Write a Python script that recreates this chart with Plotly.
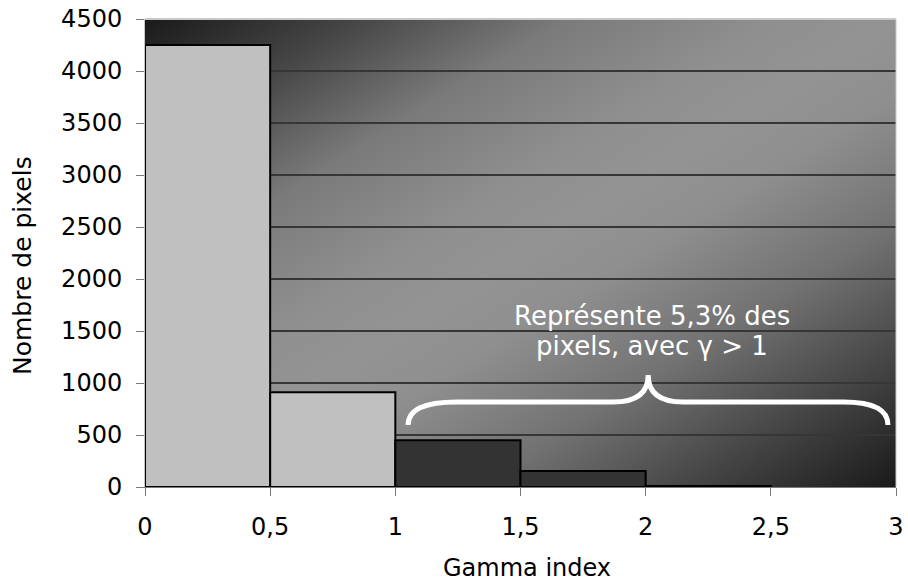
import base64
import plotly.graph_objects as go

# ---- data ----
bin_edges = [0, 0.5, 1, 1.5, 2, 2.5]
pixel_counts = [4250, 910, 450, 155, 10]
x_tick_values = [0, 0.5, 1, 1.5, 2, 2.5, 3]
x_tick_labels = ["0", "0,5", "1", "1,5", "2", "2,5", "3"]
y_tick_values = [0, 500, 1000, 1500, 2000, 2500, 3000, 3500, 4000, 4500]
y_tick_labels = ["0", "500", "1000", "1500", "2000", "2500", "3000", "3500", "4000", "4500"]
annotation_lines = ["Représente 5,3% des", "pixels, avec γ > 1"]
gamma_threshold = 1

# ---- styles ----
LIGHT = "#c0c0c0"
DARK = "#333333"
FONT = "DejaVu Sans"

centers = [(a + b) / 2 for a, b in zip(bin_edges[:-1], bin_edges[1:])]
widths = [b - a for a, b in zip(bin_edges[:-1], bin_edges[1:])]
colors = [LIGHT if b <= gamma_threshold else DARK for b in bin_edges[1:]]

# background gradient (diagonal, dark corners, light band)
stops = [(0, "#1a1a1a"), (0.14, "#454545"), (0.28, "#7a7a7a"), (0.42, "#8f8f8f"),
         (0.5, "#939393"), (0.58, "#8f8f8f"), (0.72, "#727272"), (0.86, "#454545"),
         (1, "#1a1a1a")]
stop_svg = "".join(f'<stop offset="{o}" stop-color="{c}"/>' for o, c in stops)
svg = ('<svg xmlns="http://www.w3.org/2000/svg" width="751" height="468" '
       'viewBox="0 0 751 468" preserveAspectRatio="none"><defs>'
       f'<linearGradient id="g" x1="0" y1="0" x2="1" y2="1">{stop_svg}</linearGradient>'
       '</defs><rect x="0" y="0" width="751" height="468" fill="url(#g)"/></svg>')
bg_uri = "data:image/svg+xml;base64," + base64.b64encode(svg.encode()).decode()

fig = go.Figure()
fig.add_trace(go.Bar(
    x=centers, y=pixel_counts, width=widths,
    marker=dict(color=colors, line=dict(color="black", width=2)),
    hoverinfo="skip", showlegend=False,
))

# brace (decoration) in data coordinates
bx0, bx1, btip = 1.051, 2.968, 2.01
by_end, by_mid, by_tip = 596, 817, 1077
brace = (f"M {bx0},{by_end} Q {bx0},{by_mid} 1.246,{by_mid} L 1.87,{by_mid} "
         f"Q {btip},{by_mid} {btip},{by_tip} Q {btip},{by_mid} 2.15,{by_mid} "
         f"L 2.79,{by_mid} Q {bx1},{by_mid} {bx1},{by_end}")

fig.update_layout(
    width=908, height=585,
    margin=dict(l=145, r=12, t=19, b=98, autoexpand=False),
    paper_bgcolor="white",
    plot_bgcolor="#888888",
    font=dict(family=FONT, size=24, color="black"),
    images=[dict(source=bg_uri, xref="paper", yref="paper", x=0, y=1,
                 sizex=1, sizey=1, xanchor="left", yanchor="top",
                 sizing="stretch", layer="below")],
    xaxis=dict(range=[0, 3], tickvals=x_tick_values, ticktext=x_tick_labels,
               automargin=False, ticklabeloverflow="allow",
               showgrid=False, zeroline=False, showline=True, linecolor="#7a7a7a",
               linewidth=1, ticks="outside", ticklen=8, tickcolor="#7a7a7a",
               layer="below traces", ticklabelstandoff=10,
               tickfont=dict(family=FONT, size=24, color="black")),
    yaxis=dict(range=[0, 4500], tickvals=y_tick_values, ticktext=y_tick_labels,
               automargin=False, ticklabeloverflow="allow",
               showgrid=True, gridcolor="#363636", gridwidth=2, zeroline=False,
               showline=True, linecolor="#c8c8c8", linewidth=1,
               ticks="outside", ticklen=8, tickcolor="#7a7a7a",
               layer="below traces", ticklabelstandoff=9,
               tickfont=dict(family=FONT, size=24, color="black")),
    shapes=[
        dict(type="path", path=brace, xref="x", yref="y",
             line=dict(color="white", width=5), layer="above"),
        dict(type="line", xref="paper", yref="paper", x0=0, x1=1, y0=1, y1=1,
             line=dict(color="#c8c8c8", width=2), layer="above"),
        dict(type="line", xref="paper", yref="paper", x0=1, x1=1, y0=0, y1=1,
             line=dict(color="#c8c8c8", width=1), layer="above"),
    ],
    annotations=[
        dict(text=annotation_lines[0], x=2.026, y=1644, xref="x", yref="y",
             showarrow=False, xanchor="center", yanchor="middle",
             font=dict(family=FONT, size=26, color="white")),
        dict(text=annotation_lines[1], x=2.026, y=1356, xref="x", yref="y",
             showarrow=False, xanchor="center", yanchor="middle",
             font=dict(family=FONT, size=26, color="white")),
        dict(text="Gamma index", x=0.509, y=-0.173, xref="paper", yref="paper",
             showarrow=False, xanchor="center", yanchor="middle",
             font=dict(family=FONT, size=24, color="black")),
        dict(text="Nombre de pixels", x=-0.164, y=0.474, xref="paper", yref="paper",
             showarrow=False, xanchor="center", yanchor="middle", textangle=-90,
             font=dict(family=FONT, size=25, color="black")),
    ],
)

fig.write_html("out.html", config={"displayModeBar": False},
               post_script="document.body.style.margin='0';document.body.style.overflow='hidden';")
